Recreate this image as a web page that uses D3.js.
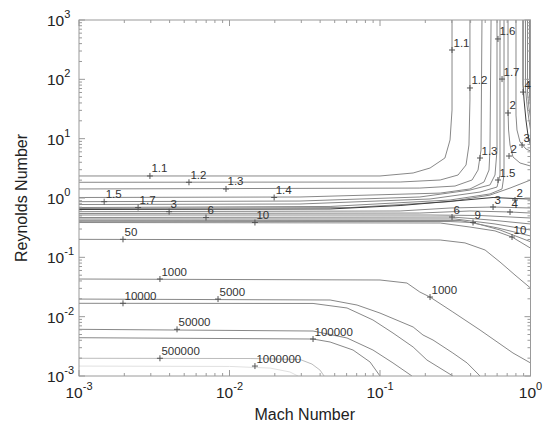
<!doctype html>
<html>
<head>
<meta charset="utf-8">
<title>Reynolds vs Mach</title>
<script src="https://d3js.org/d3.v7.min.js"></script>
<style>
body{margin:0;background:#fff;}
text{font-family:"Liberation Sans",Arial,sans-serif;}
</style>
</head>
<body>
<script>
// axis ticks
var machTicks = [1e-3, 1e-2, 1e-1, 1];
var machExp = ["-3", "-2", "-1", "0"];
var reTicks = [1e-3, 1e-2, 1e-1, 1, 10, 100, 1000];
var reExp = ["-3", "-2", "-1", "0", "1", "2", "3"];

// contour lines, points are [Mach, Reynolds]
var lv1_1 = [[0.001,2.35],[0.1,2.35],[0.166,2.64],[0.215,3.2],[0.27,4.72],[0.292,9.5],[0.301,30.4],[0.301,1000]];
var lv1_2 = [[0.001,1.84],[0.136,1.86],[0.251,2.01],[0.33,2.44],[0.373,3.6],[0.39,7.82],[0.396,44.9],[0.396,1000]];
var lv1_3 = [[0.001,1.42],[0.184,1.47],[0.315,1.59],[0.409,2.01],[0.448,2.96],[0.469,6.44],[0.476,1000]];
var lv1_4 = [[0.001,1.02],[0.0294,1.04],[0.251,1.21],[0.396,1.42],[0.491,1.86],[0.53,2.96],[0.538,6.44],[0.547,1000]];
var lv1_5 = [[0.001,0.867],[0.0294,0.889],[0.184,1.04],[0.396,1.36],[0.538,1.66],[0.581,2.44],[0.599,6.44],[0.599,1000]];
var lv1_6 = [[0.001,0.777],[0.0294,0.792],[0.215,0.962],[0.462,1.26],[0.599,1.53],[0.627,2.44],[0.627,1000]];
var lv1_7 = [[0.001,0.691],[0.0466,0.72],[0.292,0.925],[0.538,1.17],[0.647,1.42],[0.667,2.44],[0.667,1000]];
var lv1_8 = [[0.001,0.665],[0.064,0.69],[0.292,0.87],[0.538,1.12],[0.731,1.47],[1,2.01]];
var lv2 = [[0.001,0.64],[0.0466,0.653],[0.136,0.747],[0.34,0.907],[0.564,1.02],[0.789,0.98],[1,0.962]];
var lv3 = [[0.001,0.588],[0.136,0.604],[0.292,0.678],[0.564,0.705],[1,0.678]];
var lv4 = [[0.001,0.548],[0.184,0.558],[0.396,0.604],[0.731,0.581],[1,0.558]];
var lv5 = [[0.001,0.517],[0.215,0.517],[0.462,0.507],[1,0.46]];
var lv6 = [[0.001,0.469],[0.301,0.478],[0.538,0.426],[1,0.365]];
var lv7 = [[0.001,0.443],[0.315,0.443],[0.581,0.365],[1,0.289]];
var lv8 = [[0.001,0.421],[0.34,0.418],[0.608,0.312],[1,0.229]];
var lv9 = [[0.001,0.405],[0.292,0.401],[0.415,0.386],[0.627,0.289],[1,0.183]];
var lv10 = [[0.001,0.386],[0.251,0.379],[0.396,0.324],[0.581,0.279],[0.754,0.22],[1,0.143]];
var lv50 = [[0.001,0.201],[0.251,0.196],[0.367,0.175],[0.499,0.133],[0.627,0.0834],[0.789,0.0503],[1,0.0304]];
var lv1000 = [[0.001,0.0431],[0.1,0.0415],[0.151,0.0369],[0.184,0.026],[0.215,0.0214],[0.305,0.012],[0.462,0.00596],[0.765,0.00244],[1,0.00166]];
var lv5000 = [[0.001,0.0198],[0.0466,0.0191],[0.0704,0.0157],[0.1,0.0115],[0.166,0.0067],[0.193,0.00491],[0.225,0.00404],[0.305,0.00244],[0.379,0.00166],[0.462,0.001]];
var lv10000 = [[0.001,0.0168],[0.0359,0.0167],[0.0604,0.014],[0.0898,0.00879],[0.122,0.0053],[0.166,0.00308],[0.205,0.00186],[0.305,0.001]];
var lv50000 = [[0.001,0.00612],[0.0359,0.00573],[0.0604,0.00437],[0.0898,0.00274],[0.122,0.00166],[0.163,0.001]];
var lv100000 = [[0.001,0.00442],[0.0359,0.0042],[0.0466,0.00374],[0.0662,0.00274],[0.0859,0.00172],[0.1,0.001]];
var lv500000 = [[0.001,0.00199],[0.0137,0.00197],[0.0294,0.0019],[0.0353,0.00159],[0.0399,0.00126],[0.0425,0.001]];
var lv1000000 = [[0.001,0.00147],[0.01,0.00145],[0.0186,0.00136],[0.0252,0.00117],[0.0285,0.001]];
// upper right corner branches
var lv2u = [[0.709,1000],[0.709,30],[0.715,14],[0.731,7.82],[0.765,4.91],[0.852,3.89],[1,3.46]];
var lv3u = [[0.801,1000],[0.801,25],[0.813,14],[0.852,8.8],[0.933,6.7],[1,6.2]];
var lv4u = [[0.892,1000],[0.892,80],[0.906,44.9],[0.933,20.6],[0.962,11.5],[1,7.82]];
var lv5u = [[0.926,1000],[0.926,71.5],[0.948,36.9],[0.977,20.6],[1,14]];
var lv6u = [[0.955,1000],[0.955,61],[0.977,33],[1,22.3]];
var lv8u = [[0.985,1000],[0.985,48],[1,35.5]];

var contourLines = [lv1_1, lv1_2, lv1_3, lv1_4, lv1_5, lv1_6, lv1_7, lv1_8, lv2, lv3, lv4, lv5, lv6, lv7, lv8, lv9, lv10,
  lv50, lv1000, lv5000, lv10000, lv50000, lv100000, lv500000, lv1000000, lv2u, lv3u, lv4u, lv5u, lv6u, lv8u];

// contour labels: text and the point the "+" marks
var labelText = ["1.1","1.2","1.3","1.4","1.5","1.7","3","6","10","50",
  "1000","10000","5000","50000","100000","500000","1000000","1000",
  "1.1","1.2","1.3","1.6","1.7","4","2","3","2","1.5","3","2","4","6","9","10"];
var labelMach = [0.00296,0.00538,0.00948,0.0198,0.00147,0.00247,0.00397,0.00698,0.01476,0.00196,
  0.00345,0.00196,0.00839,0.00448,0.0359,0.00345,0.01476,0.215,
  0.301,0.396,0.462,0.608,0.647,0.892,0.709,0.879,0.72,0.608,0.564,0.789,0.731,0.301,0.415,0.754];
var labelRe = [2.35,1.84,1.42,1.02,0.867,0.691,0.588,0.469,0.386,0.201,
  0.0431,0.0168,0.0198,0.00612,0.0042,0.00199,0.00147,0.0214,
  312,71.5,4.72,479,101,61,27.1,7.82,5.1,2.01,0.705,0.925,0.581,0.478,0.386,0.22];

var width = 547, height = 427;
var L = 79, R = 530.5, T = 20, B = 376;

var svg = d3.select("body").append("svg")
    .attr("width", width)
    .attr("height", height);

var x = d3.scaleLog().domain([1e-3, 1]).range([L, R]);
var y = d3.scaleLog().domain([1e-3, 1e3]).range([B, T]);

svg.append("clipPath").attr("id", "plot")
  .append("rect").attr("x", L).attr("y", T).attr("width", R - L).attr("height", B - T);

var line = d3.line()
    .x(function(d){ return x(d[0]); })
    .y(function(d){ return y(d[1]); });

function lineColor(pts){
  if (pts === lv2 || pts === lv4u) return "#3c3c3c";
  if (pts === lv500000) return "#bcbcbc";
  if (pts === lv1000000) return "#e0e0e0";
  return "#888";
}

svg.append("g").attr("clip-path", "url(#plot)")
  .selectAll("path")
  .data(contourLines)
  .enter().append("path")
  .attr("d", line)
  .attr("fill", "none")
  .attr("stroke", lineColor)
  .attr("stroke-width", 1);

// frame + log ticks on all sides
svg.append("rect")
  .attr("x", L).attr("y", T).attr("width", R - L).attr("height", B - T)
  .attr("fill", "none").attr("stroke", "#9a9a9a");

var xMinor = [], yMinor = [];
machTicks.slice(0, -1).forEach(function(t){ for (var k = 1; k < 10; k++) xMinor.push({v: t * k, major: k == 1}); });
xMinor.push({v: 1, major: true});
reTicks.slice(0, -1).forEach(function(t){ for (var k = 1; k < 10; k++) yMinor.push({v: t * k, major: k == 1}); });
yMinor.push({v: 1000, major: true});

var tk = svg.append("g").attr("stroke", "#9a9a9a").attr("stroke-width", 1);
xMinor.forEach(function(d){
  var len = d.major ? 6 : 3, px = x(d.v);
  tk.append("line").attr("x1", px).attr("x2", px).attr("y1", B).attr("y2", B - len);
  tk.append("line").attr("x1", px).attr("x2", px).attr("y1", T).attr("y2", T + len);
});
yMinor.forEach(function(d){
  var len = d.major ? 6 : 3, py = y(d.v);
  tk.append("line").attr("y1", py).attr("y2", py).attr("x1", L).attr("x2", L + len);
  tk.append("line").attr("y1", py).attr("y2", py).attr("x1", R).attr("x2", R - len);
});

// tick labels 10^n
var xl = svg.append("g").selectAll("text").data(machTicks).enter().append("text")
  .attr("x", function(d){ return x(d); })
  .attr("y", 398)
  .attr("text-anchor", "middle")
  .attr("font-size", 15.5)
  .attr("fill", "#222");
xl.append("tspan").text("10");
xl.append("tspan").attr("dy", -8).attr("font-size", 11).text(function(d, i){ return machExp[i]; });

var yl = svg.append("g").selectAll("text").data(reTicks).enter().append("text")
  .attr("x", 47)
  .attr("y", function(d){ return y(d) + 6; })
  .attr("font-size", 15.5)
  .attr("fill", "#222");
yl.append("tspan").text("10");
yl.append("tspan").attr("dy", -8).attr("font-size", 11).text(function(d, i){ return reExp[i]; });

// axis titles
svg.append("text")
  .attr("x", (L + R) / 2).attr("y", 420)
  .attr("text-anchor", "middle").attr("font-size", 16).attr("fill", "#222")
  .text("Mach Number");
svg.append("text")
  .attr("transform", "translate(27," + ((T + B) / 2) + ") rotate(-90)")
  .attr("text-anchor", "middle").attr("font-size", 16).attr("fill", "#222")
  .text("Reynolds Number");

// contour labels
var lab = svg.append("g");
labelText.forEach(function(t, i){
  var px = x(labelMach[i]), py = y(labelRe[i]);
  lab.append("path")
    .attr("d", "M" + (px - 3) + "," + py + "H" + (px + 3) + "M" + px + "," + (py - 3) + "V" + (py + 3))
    .attr("stroke", "#555").attr("fill", "none");
  lab.append("text")
    .attr("x", px + 1.5).attr("y", py - 3.5)
    .attr("font-size", 11.5).attr("fill", "#333")
    .text(t);
});
</script>
</body>
</html>
